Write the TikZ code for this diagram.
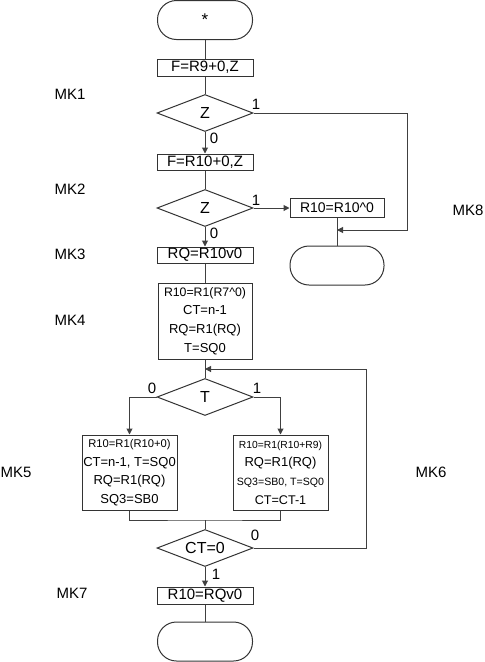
\documentclass[tikz,border=0pt]{standalone}
\usepackage{fontspec}
\setmainfont{Liberation Sans}
\usetikzlibrary{arrows.meta,shapes.geometric}

\tikzset{
    blk/.style={draw=black!80, line width=1pt, rectangle, inner sep=0pt, minimum width=96pt, minimum height=17pt, font=\fontsize{15}{18}\selectfont},
    term/.style={blk, rounded corners=19pt, minimum width=95pt, minimum height=39pt},
    cond/.style={draw=black!80, line width=1pt, diamond, aspect=2.6, inner sep=0pt, minimum width=96pt, minimum height=37pt, font=\fontsize{16}{19}\selectfont},
    multi/.style={blk, align=center, minimum width=95pt, minimum height=75pt, font=\fontsize{13}{18.6}\selectfont},
    lbl/.style={inner sep=0pt, font=\fontsize{15}{18}\selectfont},
    mk/.style={inner sep=0pt, font=\fontsize{15}{18}\selectfont},
    line/.style={draw=black!75, line width=1pt},
    arr/.style={line, -{Triangle[length=6pt,width=6pt]}}
}

\begin{document}
\begin{tikzpicture}[x=1pt,y=-1pt]
    \useasboundingbox (0,0) rectangle (485,662);
    \node[term, font=\fontsize{17}{20}\selectfont] (start) at (205,20) {*};
    \node[blk] (f1) at (205,67.5) {F=R9+0,Z};
    \node[cond] (z1) at (205,113) {Z};
    \node[blk, minimum height=16pt] (f2) at (205,162) {F=R10+0,Z};
    \node[cond] (z2) at (205,208) {Z};
    \node[blk, minimum width=94pt, minimum height=19pt, font=\fontsize{14}{17}\selectfont] (inv) at (337,208) {R10=R10\textasciicircum0};
    \node[term, minimum width=94pt] (stop1) at (337,265.5) {};
    \node[blk, minimum height=16pt] (rq) at (205,255) {RQ=R10v0};
    \node[multi, minimum width=94pt, minimum height=76pt] (init) at (205,321) {{\fontsize{12.3}{18.6}\selectfont R10=R1(R7\textasciicircum0)}\\CT=n-1\\RQ=R1(RQ)\\T=SQ0};
    \node[cond] (t) at (205,397) {T};
    \node[multi] (shl) at (129.5,472.5) {{\fontsize{11.2}{18.6}\selectfont R10=R1(R10+0)}\\CT=n-1, T=SQ0\\RQ=R1(RQ)\\SQ3=SB0};
    \node[multi] (add) at (280.5,472.5) {{\fontsize{10.3}{18.6}\selectfont R10=R1(R10+R9)}\\RQ=R1(RQ)\\{\fontsize{10.6}{18.6}\selectfont SQ3=SB0, T=SQ0}\\{\fontsize{12.6}{18.6}\selectfont CT=CT-1}};
    \node[cond] (ct) at (205,548) {CT=0};
    \node[blk] (res) at (205,595.5) {R10=RQv0};
    \node[term] (stop2) at (205,641.5) {};

    \coordinate (r1) at (407,113);
    \coordinate (r2) at (407,230);
    \coordinate (j1) at (337,230);
    \coordinate (lp1) at (366,548);
    \coordinate (lp2) at (366,369);
    \coordinate (j2) at (205,369);
    \coordinate (m) at (205,520);

    \draw[line] (start) -- (f1);
    \draw[line] (f1) -- (z1);
    \draw[arr] (z1.south) -- (f2.north);
    \draw[arr] (z1.east) -- (r1) -- (r2) -- (j1);
    \draw[line] (f2) -- (z2);
    \draw[arr] (z2.east) -- (inv.west);
    \draw[arr] (z2.south) -- (rq.north);
    \draw[line] (inv) -- (stop1);
    \draw[line] (rq) -- (init);
    \draw[line] (init) -- (t);
    \draw[arr] (t.west) -| (shl.north);
    \draw[arr] (t.east) -| (add.north);
    \draw[line] (shl.south) |- (m) -| (add.south);
    \draw[line] (m) -- (ct.north);
    \draw[arr] (ct.east) -- (lp1) -- (lp2) -- (j2);
    \draw[arr] (ct.south) -- (res.north);
    \draw[line] (res) -- (stop2);

    \node[lbl] (z1one) at (256,104) {1};
    \node[lbl] (z1zero) at (214,138) {0};
    \node[lbl] (z2one) at (256,200) {1};
    \node[lbl] (z2zero) at (214,233) {0};
    \node[lbl] (tzero) at (152,388.5) {0};
    \node[lbl] (tone) at (257,388.5) {1};
    \node[lbl] (ctzero) at (255,535.5) {0};
    \node[lbl] (ctone) at (216,574) {1};

    \node[mk] (mk1) at (70,94.5) {MK1};
    \node[mk] (mk2) at (70,189) {MK2};
    \node[mk] (mk3) at (70,254) {MK3};
    \node[mk] (mk4) at (70,320) {MK4};
    \node[mk] (mk5) at (16,472) {MK5};
    \node[mk] (mk6) at (431,472) {MK6};
    \node[mk] (mk7) at (72,593) {MK7};
    \node[mk] (mk8) at (468,210) {MK8};
\end{tikzpicture}
\end{document}
